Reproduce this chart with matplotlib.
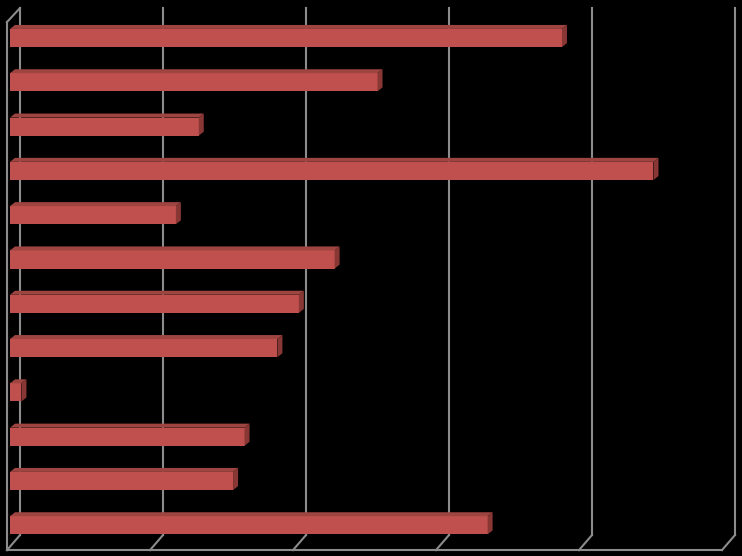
import numpy as np
import matplotlib.pyplot as plt
from matplotlib.patches import Polygon

# bar values, top to bottom (no labels shown in the source chart)
categories = [f"Item {i}" for i in range(1, 13)]
values = [38.6, 25.7, 13.2, 45.0, 11.6, 22.7, 20.2, 18.7, 0.8, 16.4, 15.6, 33.4]
ticks = [0, 10, 20, 30, 40, 50]

FRONT = "#C0504D"
TOP = "#9E4441"
SIDE = "#883734"
GRID = "#8C8C8C"

bar_h = 0.41      # front face height (category units)
dx, dy = 0.35, 0.09   # bar depth offset
back_dx = 0.70    # wall plane offset from bar origin
front_dx = -0.21  # floor front edge offset

fig = plt.figure(figsize=(7.42, 5.56), dpi=100, facecolor="black")
ax = fig.add_axes([0, 0, 1, 1])
ax.set_facecolor("black")
ax.set_xlim(-0.70, 51.19)
ax.set_ylim(11.693, -0.858)
ax.axis("off")

# y positions of the walls in category units
y_top_back = -0.677
y_top_front = -0.36
y_floor_back = 11.22
y_floor_front = 11.56

# gridlines on the back wall plus the floor diagonals
for t in ticks:
    xb = t + back_dx
    xf = t + front_dx
    ax.plot([xb, xb], [y_top_back, y_floor_back], color=GRID, lw=1.5, zorder=1)
    ax.plot([xb, xf], [y_floor_back, y_floor_front], color=GRID, lw=1.5, zorder=1)
# left wall edge
ax.plot([ticks[0] + front_dx] * 2, [y_top_front, y_floor_front], color=GRID, lw=1.5, zorder=1)
ax.plot([ticks[0] + front_dx, ticks[0] + back_dx], [y_top_front, y_top_back],
        color=GRID, lw=1.5, zorder=1)
# floor front edge
ax.plot([ticks[0] + front_dx, ticks[-1] + front_dx], [y_floor_front] * 2,
        color=GRID, lw=1.5, zorder=1)

ypos = np.arange(len(values))
ax.barh(ypos, values, height=bar_h, color=FRONT, edgecolor="none", zorder=3)

for y, v in zip(ypos, values):
    yt = y - bar_h / 2
    yb = y + bar_h / 2
    top = Polygon([(0, yt), (dx, yt - dy), (v + dx, yt - dy), (v, yt)],
                  closed=True, facecolor=TOP, edgecolor="none", zorder=3)
    side = Polygon([(v, yt), (v + dx, yt - dy), (v + dx, yb - dy), (v, yb)],
                   closed=True, facecolor=SIDE, edgecolor="none", zorder=3)
    ax.add_patch(top)
    ax.add_patch(side)

fig.savefig("out.png", dpi=100, facecolor="black")
